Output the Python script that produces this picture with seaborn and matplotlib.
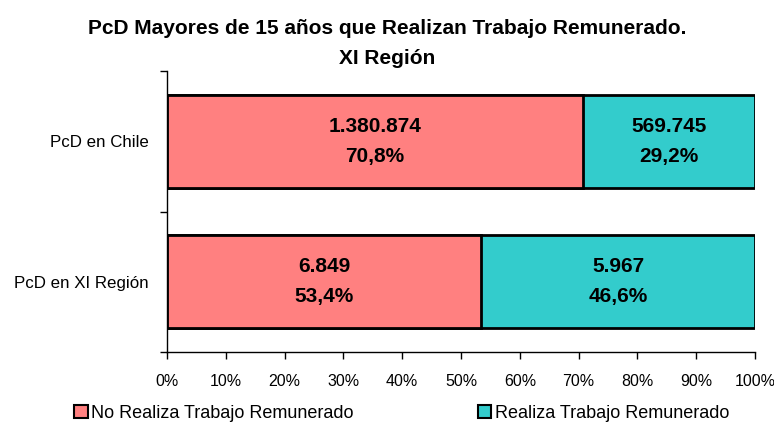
import pandas as pd
import matplotlib
matplotlib.use("Agg")
import matplotlib.pyplot as plt
from matplotlib import font_manager
from matplotlib.patches import Patch
from matplotlib.ticker import FixedLocator, PercentFormatter
import seaborn as sns

# data
categories = ["PcD en Chile", "PcD en XI Región"]
no_realiza = [1380874, 6849]
realiza = [569745, 5967]
series_names = ["No Realiza Trabajo Remunerado", "Realiza Trabajo Remunerado"]
colors = ["#FF8080", "#33CCCC"]

df = pd.DataFrame({"cat": categories, "no": no_realiza, "si": realiza})
df["total"] = df["no"] + df["si"]
df["pct_no"] = df["no"] / df["total"] * 100
df["pct_si"] = df["si"] / df["total"] * 100
df["full"] = 100.0

sns.set_style("white")
names = {f.name for f in font_manager.fontManager.ttflist}
narrow = "Liberation Sans Narrow" if "Liberation Sans Narrow" in names else "Liberation Sans"
plt.rcParams["font.family"] = [narrow, "DejaVu Sans"]
plt.rcParams["text.color"] = "black"
plt.rcParams["xtick.color"] = "black"
plt.rcParams["ytick.color"] = "black"


def fmt_num(v):
    return f"{v:,}".replace(",", ".")


def fmt_pct(p):
    return f"{p:.1f}%".replace(".", ",")


fig = plt.figure(figsize=(7.74, 4.23), dpi=100)
ax = fig.add_axes([0.2158, 0.1678, 0.7597, 0.6644])

# teal underneath covering the full width, salmon on top
sns.barplot(data=df, y="cat", x="full", orient="h", color=colors[1],
            saturation=1, width=0.66, edgecolor="black", linewidth=2, ax=ax)
sns.barplot(data=df, y="cat", x="pct_no", orient="h", color=colors[0],
            saturation=1, width=0.66, edgecolor="black", linewidth=2, ax=ax)

for i, row in df.iterrows():
    ax.text(row["pct_no"] / 2, i, f"{fmt_num(row['no'])}\n{fmt_pct(row['pct_no'])}",
            ha="center", va="center", fontsize=15, fontweight="bold", linespacing=1.75)
    ax.text(row["pct_no"] + row["pct_si"] / 2, i,
            f"{fmt_num(row['si'])}\n{fmt_pct(row['pct_si'])}",
            ha="center", va="center", fontsize=15, fontweight="bold", linespacing=1.75)

ax.set_xlim(0, 100)
ax.set_ylim(1.5, -0.5)
ax.set_xlabel("")
ax.set_ylabel("")
ax.xaxis.set_major_locator(FixedLocator(range(0, 101, 10)))
ax.xaxis.set_major_formatter(PercentFormatter(decimals=0))
ax.tick_params(axis="x", length=5, width=1, color="black", labelsize=11.5, pad=11)
ax.tick_params(axis="y", which="major", length=0, labelsize=12.2, pad=13)
ax.yaxis.set_minor_locator(FixedLocator([-0.5, 0.5, 1.5]))
ax.tick_params(axis="y", which="minor", length=5, width=1, color="black", left=True)
ax.tick_params(axis="x", bottom=True)
for side in ["top", "right"]:
    ax.spines[side].set_visible(False)
for side in ["left", "bottom"]:
    ax.spines[side].set_color("black")
    ax.spines[side].set_linewidth(1)

fig.text(0.5, 1 - 28 / 423, "PcD Mayores de 15 años que Realizan Trabajo Remunerado.",
         ha="center", va="center", fontsize=15, fontweight="bold")
fig.text(0.5, 1 - 58 / 423, "XI Región",
         ha="center", va="center", fontsize=15, fontweight="bold")

handles = [Patch(facecolor=c, edgecolor="black", linewidth=1.5) for c in colors]
fig.legend(handles, series_names, loc="lower left", bbox_to_anchor=(0.075, -0.035),
           ncol=2, frameon=False, fontsize=13, handlelength=0.75, handleheight=0.75,
           handletextpad=0.2, columnspacing=6.85)

fig.savefig("out.png", dpi=100)
